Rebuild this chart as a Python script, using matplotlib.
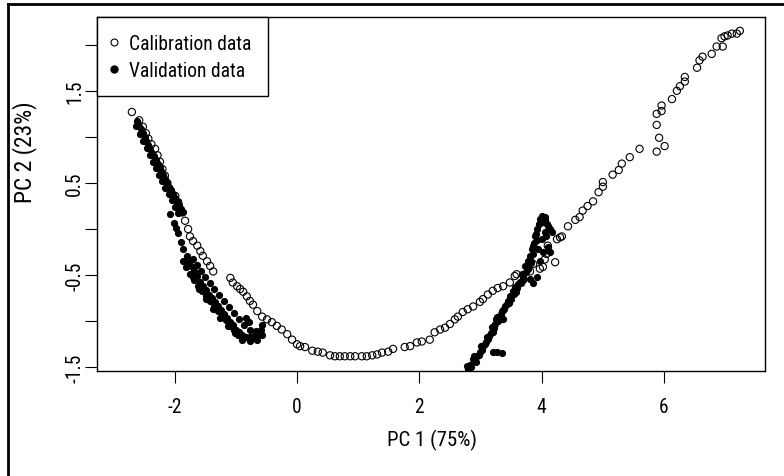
import matplotlib
matplotlib.use("Agg")
import matplotlib.pyplot as plt
from matplotlib.lines import Line2D
from matplotlib import font_manager


# the original uses a narrow Arial-like face; take the closest one installed
def pick_font():
    entries = font_manager.fontManager.ttflist
    for fam in ["Liberation Sans Narrow", "Arial Narrow", "Roboto Condensed", "Open Sans Condensed"]:
        if any(e.name == fam for e in entries):
            return fam, "normal"
    for fam in ["Roboto", "Noto Sans", "Open Sans"]:
        if any(e.name == fam and e.stretch in ("condensed", "semi-condensed", 300, 400) for e in entries):
            return fam, "condensed"
    return "Liberation Sans", "normal"


FONT, STRETCH = pick_font()
plt.rcParams["font.family"] = [FONT, "DejaVu Sans"]
plt.rcParams["font.stretch"] = STRETCH

# PCA scores
cal_x = [-2.70, -2.58, -2.52, -2.47, -2.43, -2.38, -2.32, -2.28, -2.24, -2.20,
         -2.16, -2.12, -2.08, -1.99, -1.94, -1.88, -1.83, -1.78, -1.75, -1.70,
         -1.63, -1.58, -1.54, -1.47, -1.42, -1.37,
         -1.09, -1.05, -0.98, -0.93, -0.88, -0.82, -0.77, -0.72, -0.65, -0.57,
         -0.49, -0.41, -0.33, -0.25, -0.16, -0.08, 0.00, 0.05, 0.13, 0.25,
         0.34, 0.42, 0.54, 0.62, 0.70, 0.78, 0.87, 0.95, 1.06, 1.14,
         1.23, 1.31, 1.39, 1.49, 1.57, 1.76, 1.85, 1.96, 2.04, 2.17,
         2.25, 2.34, 2.42, 2.50, 2.58, 2.63, 2.71, 2.79, 2.88, 2.99,
         3.04, 3.12, 3.20, 3.28, 3.37, 3.48, 3.56, 3.59, 3.81, 3.86,
         3.97, 4.02, 4.05, 4.22, 4.08, 4.10, 4.25, 4.30, 4.33, 4.43,
         4.55, 4.62, 4.67, 4.75, 4.84, 4.93, 5.00, 5.00, 5.16, 5.26,
         5.31, 5.44, 5.60, 5.88, 6.01, 5.92, 5.88, 5.88, 5.96, 5.96,
         6.13, 6.21, 6.26, 6.34, 6.34, 6.54, 6.58, 6.63, 6.78, 6.86,
         6.96, 6.94, 6.99, 7.04, 7.11, 7.19, 7.24]
cal_y = [1.27, 1.18, 1.11, 1.04, 0.98, 0.92, 0.87, 0.80, 0.73, 0.65,
         0.58, 0.50, 0.43, 0.36, 0.29, 0.18, 0.09, 0.00, -0.08, -0.13,
         -0.18, -0.24, -0.29, -0.35, -0.40, -0.46,
         -0.53, -0.58, -0.62, -0.65, -0.68, -0.73, -0.78, -0.82, -0.89, -0.95,
         -0.98, -1.01, -1.05, -1.09, -1.14, -1.20, -1.25, -1.27, -1.28, -1.32,
         -1.33, -1.34, -1.37, -1.38, -1.38, -1.38, -1.38, -1.38, -1.38, -1.38,
         -1.37, -1.36, -1.34, -1.33, -1.30, -1.28, -1.27, -1.23, -1.22, -1.20,
         -1.12, -1.09, -1.07, -1.03, -0.98, -0.95, -0.90, -0.87, -0.84, -0.79,
         -0.76, -0.71, -0.67, -0.64, -0.62, -0.58, -0.51, -0.49, -0.46, -0.38,
         -0.43, -0.41, -0.33, -0.36, -0.27, -0.18, -0.11, -0.09, -0.08, 0.03,
         0.10, 0.13, 0.20, 0.25, 0.30, 0.40, 0.46, 0.51, 0.59, 0.64,
         0.71, 0.78, 0.87, 0.84, 0.90, 0.99, 1.13, 1.25, 1.28, 1.34,
         1.41, 1.50, 1.55, 1.60, 1.65, 1.75, 1.83, 1.87, 1.90, 1.98,
         1.98, 2.07, 2.09, 2.10, 2.12, 2.12, 2.15]

val_x = [-2.61, -2.58, -2.55, -2.52, -2.48, -2.47, -2.43, -2.40, -2.37, -2.34,
         -2.30, -2.27, -2.24, -2.22, -2.19, -2.16, -2.12, -2.09, -2.06, -2.03,
         -1.99, -1.96, -1.93, -1.90, -1.86,
         -2.63, -2.57, -2.51, -2.46, -2.41, -2.35, -2.30, -2.25, -2.20, -2.15,
         -2.10, -2.05, -2.00, -1.95,
         -2.08, -2.01, -1.98, -1.94, -1.90, -1.86,
         -1.80, -1.76, -1.73, -1.68, -1.63, -1.58, -1.54, -1.49, -1.44, -1.39,
         -1.34, -1.29, -1.24, -1.19, -1.14, -1.09, -1.05, -1.00, -0.95, -0.90,
         -0.83, -0.77, -0.70, -0.64, -0.59, -0.57, -0.83, -0.78,
         -1.86, -1.81, -1.75, -1.68, -1.62, -1.55, -1.49, -1.42, -1.36, -1.29,
         -1.23, -1.16, -1.09, -1.03, -0.96, -0.88,
         -1.70, -1.63, -1.57, -1.50, -1.42, -1.36, -1.27, -1.19, -1.11, -1.03,
         -0.95, -0.87, -0.77, -0.67,
         -1.80, -1.70, -1.60, -1.49, -1.37, -1.26, -1.13, -1.01, -0.90, -0.77,
         -0.65, -0.57,
         2.75, 2.80, 2.83, 2.88, 2.94, 2.99, 3.04, 3.09, 3.14, 3.20,
         3.24, 3.27, 3.32, 3.37, 3.35, 3.40, 3.45, 3.48, 3.53, 3.56,
         3.61, 3.64, 3.68, 3.73, 3.77, 3.81, 3.86, 3.92, 3.81, 3.84,
         3.86, 3.89, 3.92, 3.97, 4.00, 4.05, 4.08, 4.13, 4.17, 4.05,
         4.00, 3.94, 4.02, 4.13, 4.10, 3.97, 3.20, 3.27, 3.35, 3.78,
         2.85, 2.92, 2.97, 3.02, 3.07, 3.12, 3.17, 3.22, 3.28, 3.33,
         3.38, 3.43, 3.50, 3.55, 3.60, 3.66, 3.70, 3.74, 3.78, 3.82,
         3.85, 3.88, 3.90, 3.95, 4.02, 4.10, 4.07,
         2.78, 2.90, 3.00, 3.10, 3.18, 3.26, 3.36, 3.46, 3.58, 3.70,
         3.83, 3.93, 4.06]
val_y = [1.17, 1.12, 1.08, 1.04, 1.00, 0.96, 0.91, 0.87, 0.83, 0.79,
         0.75, 0.71, 0.67, 0.63, 0.59, 0.54, 0.50, 0.46, 0.42, 0.38,
         0.34, 0.30, 0.26, 0.22, 0.18,
         1.12, 1.03, 0.95, 0.88, 0.80, 0.73, 0.66, 0.59, 0.52, 0.45,
         0.38, 0.31, 0.24, 0.17,
         0.16, 0.07, 0.01, -0.04, -0.14, -0.22,
         -0.29, -0.35, -0.40, -0.46, -0.51, -0.57, -0.62, -0.66, -0.71, -0.75,
         -0.79, -0.84, -0.88, -0.92, -0.97, -1.01, -1.04, -1.09, -1.12, -1.15,
         -1.17, -1.17, -1.16, -1.14, -1.10, -1.04, -0.96, -1.01,
         -0.35, -0.41, -0.49, -0.55, -0.62, -0.67, -0.73, -0.78, -0.84, -0.89,
         -0.93, -0.99, -1.05, -1.10, -1.15, -1.18,
         -0.33, -0.39, -0.46, -0.52, -0.59, -0.65, -0.72, -0.78, -0.85, -0.91,
         -0.98, -1.04, -1.10, -1.11,
         -0.38, -0.52, -0.65, -0.76, -0.87, -0.96, -1.05, -1.13, -1.20, -1.21,
         -1.20, -1.15,
         -1.58, -1.52, -1.47, -1.41, -1.38, -1.33, -1.27, -1.22, -1.16, -1.12,
         -1.03, -0.95, -0.96, -0.98, -0.89, -0.84, -0.78, -0.73, -0.67, -0.63,
         -0.60, -0.57, -0.49, -0.40, -0.43, -0.54, -0.58, -0.52, -0.29, -0.22,
         -0.18, -0.08, 0.00, 0.11, 0.14, 0.13, 0.05, 0.00, -0.03, -0.03,
         -0.11, -0.22, -0.25, -0.25, -0.20, -0.35, -1.33, -1.33, -1.35, -0.35,
         -1.50, -1.44, -1.37, -1.31, -1.25, -1.19, -1.13, -1.07, -1.00, -0.92,
         -0.87, -0.81, -0.76, -0.70, -0.64, -0.58, -0.52, -0.47, -0.40, -0.35,
         -0.27, -0.15, -0.05, 0.05, 0.08, 0.03, -0.08,
         -1.49, -1.38, -1.27, -1.17, -1.06, -0.98, -0.88, -0.80, -0.68, -0.55,
         -0.37, -0.12, 0.10]

labels = ["Calibration data", "Validation data"]
x_ticks = [-2, 0, 2, 4, 6]
x_labels = ["-2", "0", "2", "4", "6"]
y_ticks = [-1.5, -1.0, -0.5, 0.0, 0.5, 1.0, 1.5, 2.0]
y_labels = ["-1.5", "", "-0.5", "", "0.5", "", "1.5", ""]

fig = plt.figure(figsize=(7.84, 4.77), dpi=100)
renderer = fig.canvas.get_renderer()


def text_box(text, size):
    t = fig.text(0, 0, text, fontsize=size)
    bb = t.get_window_extent(renderer)
    t.remove()
    return bb


def size_for(text, target_px):
    return 10 * target_px / text_box(text, 10).width


FS = size_for(labels[0], 122)
FS_YLAB = size_for("PC 2 (23%)", 101)
FS_XLAB = size_for("PC 1 (75%)", 90)

ax = fig.add_axes([0.1237, 0.2201, 0.852, 0.7421])

ax.scatter(cal_x, cal_y, s=27, facecolors="none", edgecolors="black", linewidths=0.8)
ax.scatter(val_x, val_y, s=27, color="black", linewidths=0)

ax.set_xlim(-3.27, 7.65)
ax.set_ylim(-1.54, 2.30)
ax.set_xticks(x_ticks)
ax.set_xticklabels(x_labels)
ax.set_yticks(y_ticks)
ax.set_yticklabels(y_labels, rotation=90, va="center")
ax.tick_params(axis="both", direction="out", length=8.6, width=0.8, labelsize=FS, color="black")
ax.tick_params(axis="x", pad=10)
ax.tick_params(axis="y", pad=0.5)
for sp in ax.spines.values():
    sp.set_linewidth(1.0)

fig.text(432 / 784, 1 - 440 / 477, "PC 1 (75%)", ha="center", va="center", fontsize=FS_XLAB)
fig.text(25 / 784, 1 - 152 / 477, "PC 2 (23%)", ha="center", va="center", rotation=90, fontsize=FS_YLAB)

# legend: rows 27 px apart, first row 27 px below the top of the box
fs_px = FS * 100 / 72
row_h = text_box(labels[0], FS).height
bp = (26 - row_h / 2) / fs_px
handles = [Line2D([], [], ls="none", marker="o", ms=5, mfc="none", mec="black", mew=0.8),
           Line2D([], [], ls="none", marker="o", ms=5, mfc="black", mec="black")]
leg = ax.legend(handles, labels, loc="upper left",
                borderaxespad=0, fancybox=False, edgecolor="black", framealpha=1,
                fontsize=FS, handlelength=0.1, borderpad=bp,
                handletextpad=(32 - bp * fs_px - 0.1 * fs_px) / fs_px,
                labelspacing=(27 - row_h) / fs_px)
leg.get_frame().set_linewidth(1.0)

# outer frame of the original figure (top and left only)
fig.add_artist(Line2D([8 / 784, 1], [1 - 5 / 477, 1 - 5 / 477], transform=fig.transFigure, color="black", lw=2))
fig.add_artist(Line2D([8 / 784, 8 / 784], [0, 1 - 5 / 477], transform=fig.transFigure, color="black", lw=2))

fig.savefig("out.png", dpi=100)
